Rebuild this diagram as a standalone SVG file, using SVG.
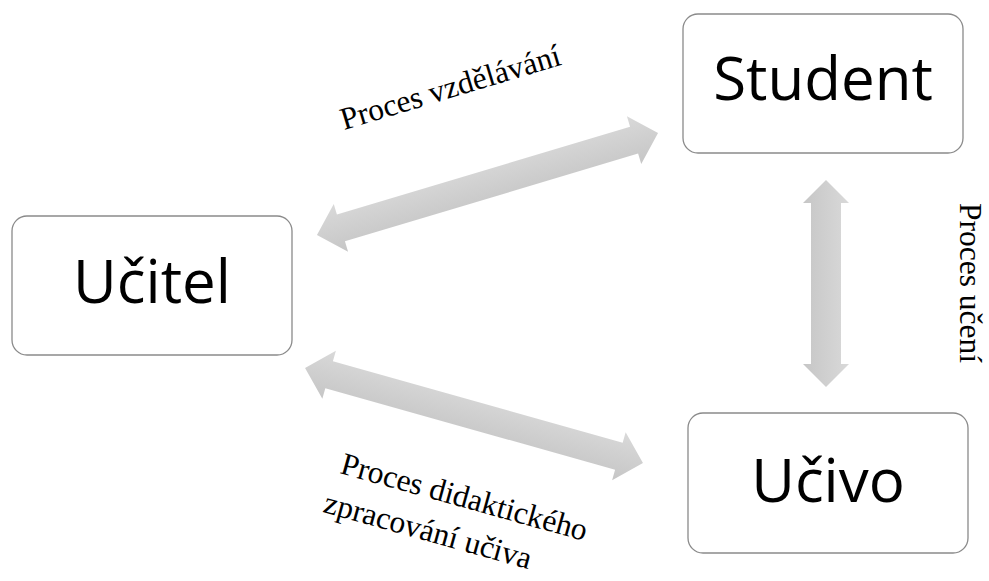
<svg xmlns="http://www.w3.org/2000/svg" width="989" height="581" viewBox="0 0 989 581">
<defs>
<linearGradient id="ag" x1="0" y1="0" x2="0" y2="1">
<stop offset="0" stop-color="#d9d9d9"/>
<stop offset="1" stop-color="#c6c6c6"/>
</linearGradient>
</defs>
<style>
.box{fill:#ffffff;stroke:#8a8a8a;stroke-width:1.3}
.nt{font-family:"Open Sans","Noto Sans",sans-serif;font-size:60px;fill:#000;text-anchor:middle}
.lb{font-family:"Liberation Serif","Times New Roman",serif;font-size:31.5px;fill:#000}
.arr{fill:url(#ag)}
</style>
<rect width="989" height="581" fill="#ffffff"/>
<g id="connectors">
<polygon class="arr" transform="translate(487.5,184) rotate(-16.65)" points="-178,0 -153,-25 -153,-14 153,-14 153,-25 178,0 153,25 153,14 -153,14 -153,25"/>
<polygon class="arr" transform="translate(474,415.5) rotate(15.7)" points="-175.5,0 -150.5,-25 -150.5,-14 150.5,-14 150.5,-25 175.5,0 150.5,25 150.5,14 -150.5,14 -150.5,25"/>
<polygon class="arr" transform="translate(826,283.5) rotate(90)" points="-103.5,0 -80.5,-23 -80.5,-15 80.5,-15 80.5,-23 103.5,0 80.5,23 80.5,15 -80.5,15 -80.5,23"/>
</g>
<g id="label-vzdelavani">
<text class="lb" transform="translate(344,130) rotate(-16.7)">Proces vzdělávání</text>
</g>
<g id="label-didakticke">
<g transform="translate(339,473) rotate(15.5)">
<text class="lb" x="0" y="0">Proces didaktického</text>
<text class="lb" x="-6" y="42">zpracování učiva</text>
</g>
</g>
<g id="label-uceni">
<text class="lb" transform="translate(960,203) rotate(90)">Proces učení</text>
</g>
<g id="node-ucitel">
<rect class="box" x="12" y="216" width="280" height="139" rx="15"/>
<text class="nt" x="152" y="303">Učitel</text>
</g>
<g id="node-student">
<rect class="box" x="683" y="14" width="280" height="139" rx="15"/>
<text class="nt" x="823" y="100">Student</text>
</g>
<g id="node-ucivo">
<rect class="box" x="688" y="413" width="280" height="140" rx="15"/>
<text class="nt" x="828" y="502">Učivo</text>
</g>
</svg>
